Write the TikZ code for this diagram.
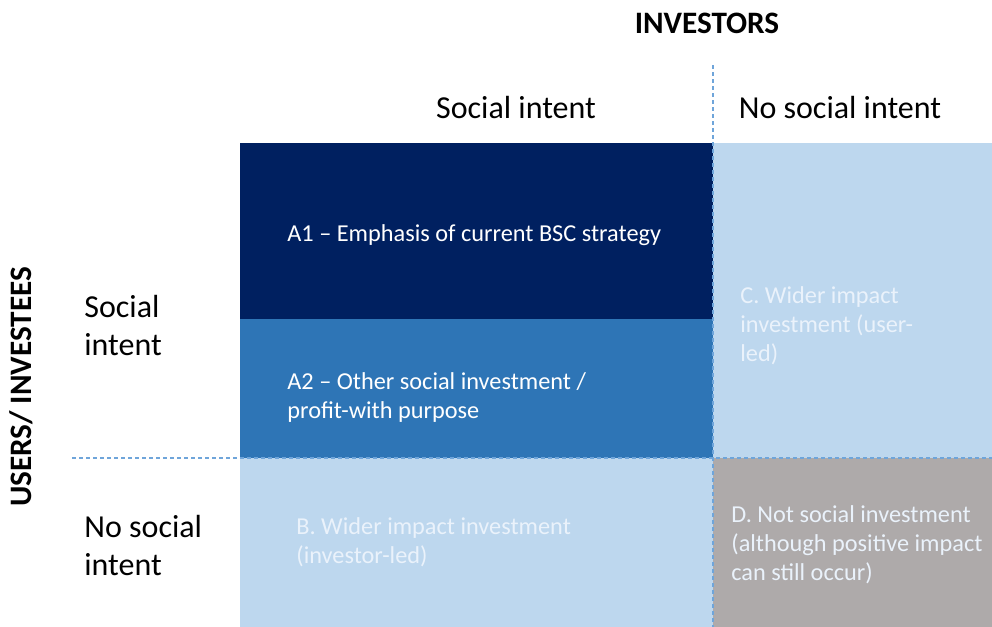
\documentclass[tikz,border=0pt]{standalone}
\usepackage{fontspec}
\setmainfont{Carlito}
\usetikzlibrary{positioning}

\definecolor{navy}{HTML}{002060}
\definecolor{midblue}{HTML}{2E75B6}
\definecolor{paleblue}{HTML}{BDD7EE}
\definecolor{greybox}{HTML}{AEAAAA}
\definecolor{dashblue}{HTML}{6FA5DA}
\definecolor{palefont}{HTML}{EAF2FB}

\begin{document}
\begin{tikzpicture}[x=0.5pt, y=-0.5pt, line cap=butt,
		cell/.style={anchor=base west, align=left, inner sep=0pt, font=\fontsize{12.15}{14.5}\selectfont},
		axislabel/.style={anchor=base west, align=left, inner sep=0pt, font=\fontsize{16}{19}\selectfont},
		axistitle/.style={anchor=base, inner sep=0pt, font=\fontsize{15.6}{18}\selectfont\bfseries},
		divider/.style={dashblue, line width=0.7pt, dash pattern=on 2pt off 1.5pt}]
		
		\useasboundingbox (0,0) rectangle (992,627);
		
		% Quadrant fills
		\fill[navy]     (240,143) rectangle (713,319);
		\fill[midblue]  (240,319) rectangle (713,458);
		\fill[paleblue] (713,143) rectangle (992,458);
		\fill[paleblue] (240,458) rectangle (713,627);
		\fill[greybox]  (713,458) rectangle (992,627);
		
		% Dividers
		\coordinate (vtop) at (713,65);
		\coordinate (vbot) at (713,627);
		\coordinate (hleft) at (72,458);
		\coordinate (hright) at (992,458);
		\draw[divider] (vtop) -- (vbot);
		\draw[divider] (hleft) -- (hright);
		
		% Axis titles
		\node[axistitle] (investors) at (707,33) {INVESTORS};
		\node[axistitle, rotate=90] (users) at (32,387) {USERS/ INVESTEES};
		
		% Column headings
		\node[axislabel, anchor=base] (colsoc) at (516,118) {Social intent};
		\node[axislabel, anchor=base] (colnosoc) at (840,118) {No social intent};
		
		% Row headings (base = last line)
		\node[axislabel] (rowsoc) at (84,355) {Social\\intent};
		\node[axislabel] (rownosoc) at (84,575) {No social\\intent};
		
		% Cell texts (base = last line)
		\node[cell, white] (a1) at (287,241) {A1 -- Emphasis of current BSC strategy};
		\node[cell, white] (a2) at (287,418) {A2 -- Other social investment /\\profit-with purpose};
		\node[cell, palefont] (b) at (296,563) {B. Wider impact investment\\(investor-led)};
		\node[cell, palefont] (c) at (740,361) {C. Wider impact\\investment (user-\\led)};
		\node[cell, palefont] (d) at (731,580) {D. Not social investment\\(although positive impact\\can still occur)};
		
	\end{tikzpicture}
\end{document}
